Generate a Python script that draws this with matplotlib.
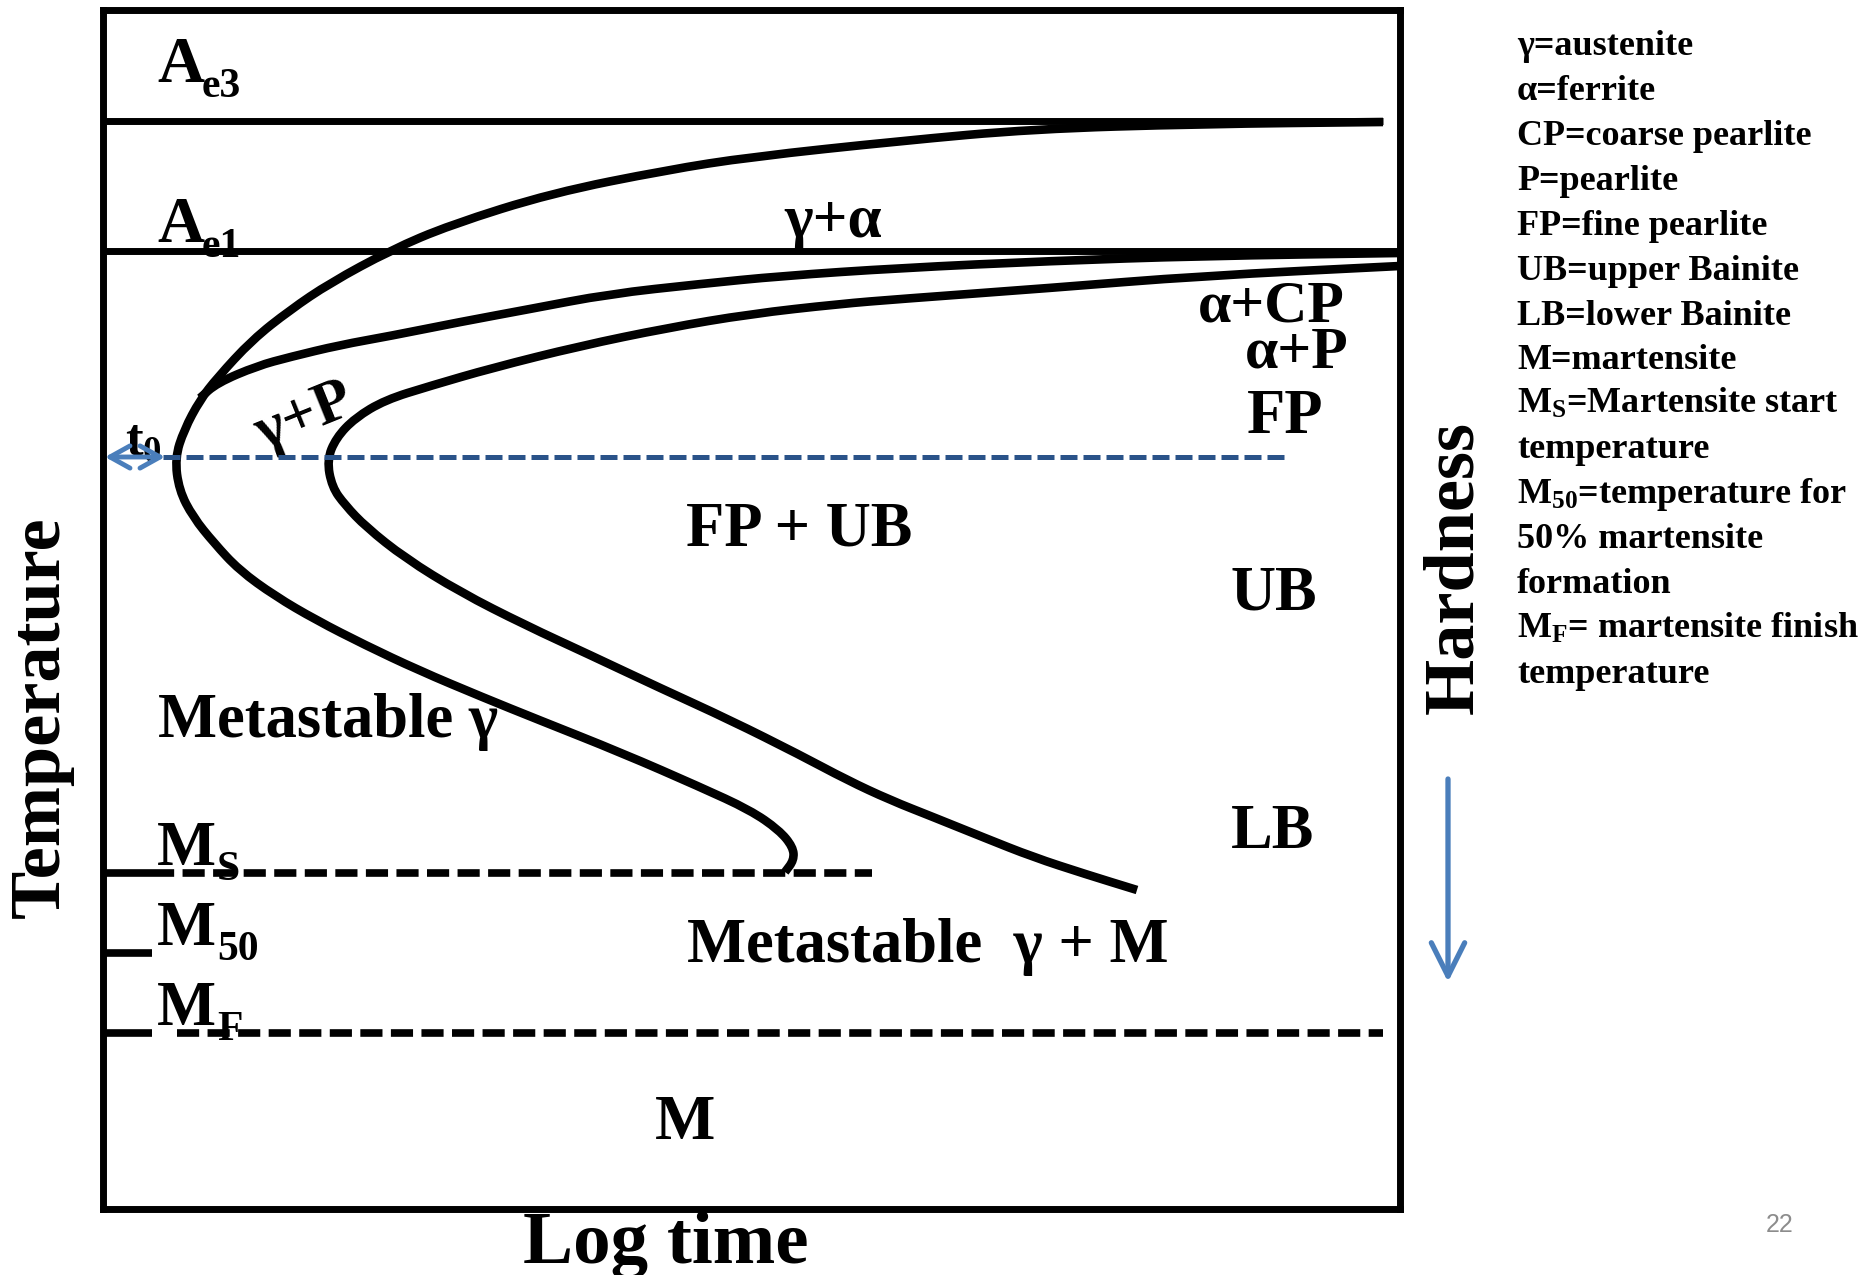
import matplotlib
matplotlib.use('Agg')
import matplotlib.pyplot as plt
from matplotlib.path import Path
from matplotlib.patches import PathPatch

plt.rcParams['font.family'] = ['Liberation Serif', 'DejaVu Serif']
plt.rcParams['mathtext.fontset'] = 'custom'
plt.rcParams['mathtext.rm'] = 'Liberation Serif'
plt.rcParams['mathtext.bf'] = 'Liberation Serif:bold'
plt.rcParams['mathtext.it'] = 'Liberation Serif:italic'

# ---- data (x = log time, arbitrary units; T = temperature, arbitrary units) ----
ae3_T = 1088
ae1_T = 958
t0_T = 752
ms_T = 336
m50_T = 256
mf_T = 176

# start-of-transformation C curve (gamma+alpha boundary -> Ms)
curveA_x = [12.80, 10.97, 9.30, 7.97, 6.47, 5.64, 4.49, 3.47, 2.88, 2.27, 1.87, 1.49,
            1.14, 0.97, 0.81, 0.72, 0.76, 0.90, 1.11, 1.36, 1.72, 2.13, 2.62, 3.15,
            3.79, 4.36, 5.19, 5.97, 6.47, 6.76, 6.90, 6.91, 6.82]
curveA_T = [1087, 1085, 1080, 1068, 1052, 1039, 1016, 984, 959, 926, 899, 869,
            831, 809, 779, 751, 719, 692, 666, 639, 613, 589, 564, 539,
            512, 489, 456, 422, 399, 379, 362, 349, 337]

# pearlite-start branch (merges into Ae1)
curveB_x = [0.97, 1.14, 1.54, 1.87, 2.37, 2.87, 3.57, 4.27, 5.06, 5.97, 6.78, 7.97,
            9.47, 10.97, 12.97]
curveB_T = [811, 826, 843, 852, 864, 873, 887, 900, 915, 925, 933, 941,
            948, 953, 956]

# finish C curve
curveC_x = [12.97, 10.97, 9.47, 7.97, 7.36, 6.47, 5.64, 4.77, 3.89, 3.27, 2.82, 2.52,
            2.33, 2.24, 2.29, 2.42, 2.63, 3.02, 3.57, 4.22, 4.87, 5.57, 6.27, 6.97,
            7.44, 7.87, 8.30, 8.82, 9.30, 9.82, 10.34]
curveC_T = [943, 933, 921, 910, 905, 895, 881, 863, 841, 823, 809, 791,
            771, 749, 722, 704, 682, 651, 617, 584, 554, 521, 489, 454,
            429, 409, 392, 371, 352, 335, 319]

region_labels = ['FP + UB', 'UB', 'LB', 'FP', 'M']
legend_lines = ['γ=austenite', 'α=ferrite', 'CP=coarse pearlite', 'P=pearlite',
                'FP=fine pearlite', 'UB=upper Bainite', 'LB=lower Bainite',
                'M=martensite', 'M$_{\\mathbf{S}}$=Martensite start', 'temperature',
                'M$_{\\mathbf{50}}$=temperature for', '50% martensite', 'formation',
                'M$_{\\mathbf{F}}$= martensite finish', 'temperature']
legend_T = [1154, 1109, 1064, 1019, 974, 929, 884, 840, 796, 751,
            706, 661, 616, 571, 526]


def smooth_path(xs, ts):
    """Quadratic-Bezier path using the read points as control points."""
    pts = list(zip(xs, ts))
    verts = [pts[0]]
    codes = [Path.MOVETO]
    mid = ((pts[0][0] + pts[1][0]) / 2, (pts[0][1] + pts[1][1]) / 2)
    verts.append(mid)
    codes.append(Path.LINETO)
    for i in range(1, len(pts) - 1):
        nxt = ((pts[i][0] + pts[i + 1][0]) / 2, (pts[i][1] + pts[i + 1][1]) / 2)
        verts += [pts[i], nxt]
        codes += [Path.CURVE3, Path.CURVE3]
    verts.append(pts[-1])
    codes.append(Path.LINETO)
    return Path(verts, codes)


# ---- figure ----
W, H = 1874, 1275
fig = plt.figure(figsize=(W / 100, H / 100), dpi=100)
fig.patch.set_facecolor('white')
ax = fig.add_axes([103 / W, 1 - 1209 / H, (1400 - 103) / W, (1209 - 10) / H])
ax.set_xlim(0, 12.97)
ax.set_ylim(0, 1199)
ax.set_xticks([])
ax.set_yticks([])
for s in ax.spines.values():
    s.set_linewidth(5)
    s.set_color('black')

black = 'black'
dblue = '#2A5389'
lblue = '#4A7EBB'

# horizontal lines
ax.plot([0, 12.80], [ae3_T, ae3_T], color=black, lw=5, solid_capstyle='butt', zorder=4)
ax.plot([0, 12.97], [ae1_T, ae1_T], color=black, lw=5, solid_capstyle='butt', zorder=4)

# Ms / M50 / MF ticks and dashed lines
for T in (ms_T, m50_T, mf_T):
    ax.plot([0, 0.49], [T, T], color=black, lw=5.5, solid_capstyle='butt', zorder=4)
ax.plot([0.49, 7.69], [ms_T, ms_T], color=black, lw=5.5,
        linestyle=(0, (2.9, 1.1)), dash_capstyle='butt', zorder=4)
ax.plot([0.74, 12.80], [mf_T, mf_T], color=black, lw=5.5,
        linestyle=(0, (2.9, 1.1)), dash_capstyle='butt', zorder=4)

# curves
for xs, ts in ((curveA_x, curveA_T), (curveB_x, curveB_T), (curveC_x, curveC_T)):
    ax.add_patch(PathPatch(smooth_path(xs, ts), facecolor='none', edgecolor=black,
                           lw=6.2, joinstyle='round', capstyle='butt', zorder=3))

# t0 dashed line and arrow
ax.plot([0.60, 11.84], [t0_T, t0_T], color=dblue, lw=3.6,
        linestyle=(0, (3.4, 1.2)), dash_capstyle='butt', zorder=6)
ax.annotate('', xy=(0.02, t0_T), xytext=(0.62, t0_T),
            arrowprops=dict(arrowstyle='<->,head_length=0.36,head_width=0.2',
                            color=lblue, lw=3.5, shrinkA=0, shrinkB=0,
                            mutation_scale=40), zorder=7, annotation_clip=False)

# Hardness arrow
ax.annotate('', xy=(13.45, 227), xytext=(13.45, 430),
            arrowprops=dict(arrowstyle='->,head_length=0.6,head_width=0.3',
                            color=lblue, lw=3.8, shrinkA=0, shrinkB=0,
                            mutation_scale=40), annotation_clip=False)

tk = dict(fontweight='bold', color='black', zorder=2)
fs = 45
sub_fs = 30

# labels with subscripts (main letter + subscript)
for (x0, xs_, base, sub, fsz) in ((0.54, 0.99, 1127, 'e3', 47),
                                  (0.54, 0.99, 967, 'e1', 47),
                                  (0.54, 1.14, 344, 'S', fs),
                                  (0.54, 1.14, 264, '50', fs),
                                  (0.54, 1.14, 184, 'F', fs)):
    main = 'A' if sub.startswith('e') else 'M'
    ax.text(x0, base, main, fontsize=fsz, va='baseline', ha='left', **tk)
    ax.text(xs_, base - 15, sub, fontsize=sub_fs, va='baseline', ha='left', **tk)

ax.text(7.30, 972, 'γ+α', fontsize=44, va='baseline', ha='center', **tk)
ax.text(2.02, 792, 'γ+P', fontsize=44, va='center', ha='center', rotation=22,
        rotation_mode='anchor', **tk)
ax.text(0.22, 754, r't$_{\mathbf{0}}$', fontsize=38, va='baseline', ha='left', **tk)
ax.text(10.95, 887, 'α+CP', fontsize=43, va='baseline', ha='left', **tk)
ax.text(11.42, 841, 'α+P', fontsize=43, va='baseline', ha='left', **tk)
ax.text(11.44, 776, region_labels[3], fontsize=fs, va='baseline', ha='left', **tk)
ax.text(5.83, 664, region_labels[0], fontsize=fs, va='baseline', ha='left', **tk)
ax.text(11.28, 600, region_labels[1], fontsize=fs, va='baseline', ha='left', **tk)
ax.text(11.28, 361, region_labels[2], fontsize=fs, va='baseline', ha='left', **tk)
ax.text(0.55, 472, 'Metastable γ', fontsize=fs, va='baseline', ha='left', **tk)
ax.text(5.84, 247, 'Metastable  γ + M', fontsize=fs, va='baseline', ha='left', **tk)
ax.text(5.52, 70, region_labels[4], fontsize=46, va='baseline', ha='left', **tk)

# axis titles
ax.text(-0.62, 492, 'Temperature', fontsize=52, rotation=90, va='center',
        ha='center', clip_on=False, **tk)
ax.text(5.63, -54, 'Log time', fontsize=54, va='baseline', ha='center',
        clip_on=False, **tk)
ax.text(13.52, 641, 'Hardness', fontsize=52, rotation=90, va='center',
        ha='center', clip_on=False, **tk)

# legend text
for s, T in zip(legend_lines, legend_T):
    ax.text(14.14, T, s, fontsize=26, va='baseline', ha='left', clip_on=False, **tk)

# page number
ax.text(16.77, -16, '22', fontsize=18, color='#8C8C8C', va='center', ha='center',
        family=['Liberation Sans', 'DejaVu Sans'], clip_on=False)

fig.savefig('out.png', dpi=100, facecolor='white')
